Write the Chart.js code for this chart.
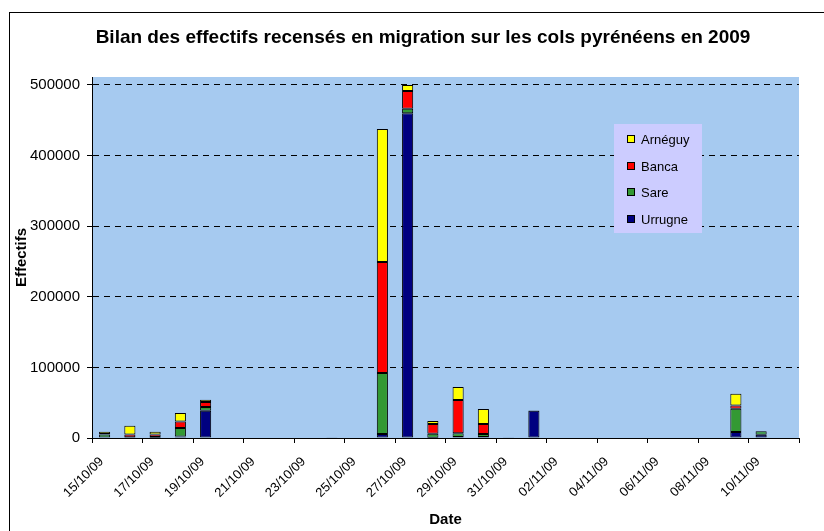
<!DOCTYPE html>
<html>
<head>
<meta charset="utf-8">
<script src="https://cdn.jsdelivr.net/npm/chart.js@4/dist/chart.umd.min.js"></script>
<style>
  html, body { margin: 0; padding: 0; background: #fff; }
  #wrap { width: 824px; height: 531px; }
</style>
</head>
<body>
<div id="wrap"><canvas id="bilanChart" width="824" height="531"></canvas></div>
<script>
// Données
var dates = ['15/10/09', '16/10/09', '17/10/09', '18/10/09', '19/10/09', '20/10/09', '21/10/09',
             '22/10/09', '23/10/09', '24/10/09', '25/10/09', '26/10/09', '27/10/09', '28/10/09',
             '29/10/09', '30/10/09', '31/10/09', '01/11/09', '02/11/09', '03/11/09', '04/11/09',
             '05/11/09', '06/11/09', '07/11/09', '08/11/09', '09/11/09', '10/11/09', '11/11/09'];
var urrugne = [0, 500, 500, 2000, 38700, 0, 0, 0, 0, 1200, 0, 5700, 460000, 500,
               1400, 1400, 1200, 38500, 0, 0, 0, 0, 0, 0, 0, 8500, 4700, 0];
var sare    = [5000, 500, 1000, 12000, 5200, 0, 0, 0, 0, 0, 0, 86400, 6500, 5500,
               5200, 4200, 0, 500, 0, 0, 0, 0, 0, 0, 0, 33000, 4700, 0];
var banca   = [500, 4000, 3500, 9500, 7000, 0, 0, 0, 0, 0, 0, 157200, 25000, 13700,
               47200, 14200, 0, 300, 0, 0, 0, 0, 0, 0, 0, 4700, 0, 0];
var arneguy = [3500, 12500, 4000, 12000, 3300, 0, 0, 0, 0, 0, 0, 188400, 8500, 4500,
               18400, 21200, 0, 0, 0, 0, 0, 0, 0, 0, 0, 16500, 0, 0];
var yTicks = [0, 100000, 200000, 300000, 400000, 500000];
var yMax = 511300;

var FONT = 'Arial, "Liberation Sans", sans-serif';
Chart.defaults.font.family = FONT;
Chart.defaults.color = '#000';

// fond blanc, cadre, fond de la zone de tracé et titre
var decor = {
    id: 'decor',
    beforeDraw: function(chart) {
        var ctx = chart.ctx, a = chart.chartArea;
        ctx.save();
        ctx.fillStyle = '#fff';
        ctx.fillRect(0, 0, chart.width, chart.height);
        ctx.strokeStyle = '#000';
        ctx.lineWidth = 1;
        ctx.strokeRect(9.5, 12.5, 900, 600);
        ctx.fillStyle = '#A6CAF0';
        ctx.fillRect(a.left, a.top, a.right - a.left, a.bottom - a.top);
        ctx.fillStyle = '#000';
        ctx.font = 'bold 19px ' + FONT;
        ctx.textAlign = 'center';
        ctx.textBaseline = 'middle';
        ctx.fillText('Bilan des effectifs recensés en migration sur les cols pyrénéens en 2009', 423, 38);
        ctx.restore();
    }
};

// légende dans la zone de tracé
var legendBox = {
    id: 'legendBox',
    afterDraw: function(chart) {
        var ctx = chart.ctx;
        var items = chart.data.datasets.slice().reverse();
        ctx.save();
        ctx.fillStyle = '#CCCCFF';
        ctx.fillRect(614, 124, 88, 109);
        ctx.font = '13px ' + FONT;
        ctx.textBaseline = 'middle';
        ctx.textAlign = 'left';
        items.forEach(function(ds, i) {
            var y = Math.round(139 + i * 26.7);
            ctx.fillStyle = ds.backgroundColor;
            ctx.fillRect(627, y - 4, 8, 8);
            ctx.strokeStyle = '#000';
            ctx.lineWidth = 1;
            ctx.strokeRect(627.5, y - 3.5, 7, 7);
            ctx.fillStyle = '#000';
            ctx.fillText(ds.label, 641, y + 1);
        });
        ctx.restore();
    }
};

document.addEventListener('DOMContentLoaded', function() {
    var ctx = document.getElementById('bilanChart').getContext('2d');
    var bar = { borderColor: '#000', borderWidth: 1, borderSkipped: false,
                barPercentage: 0.44, categoryPercentage: 1.0 };
    var bilanChart = new Chart(ctx, {
        type: 'bar',
        data: {
            labels: dates,
            datasets: [
                Object.assign({ label: 'Urrugne', data: urrugne, backgroundColor: '#000080' }, bar),
                Object.assign({ label: 'Sare', data: sare, backgroundColor: '#339933' }, bar),
                Object.assign({ label: 'Banca', data: banca, backgroundColor: '#FF0000' }, bar),
                Object.assign({ label: 'Arnéguy', data: arneguy, backgroundColor: '#FFFF00' }, bar)
            ]
        },
        options: {
            responsive: false,
            animation: false,
            layout: { padding: { left: 10, right: 25, top: 77, bottom: 0 } },
            plugins: {
                legend: { display: false },
                title: { display: false },
                tooltip: { enabled: false }
            },
            scales: {
                x: {
                    stacked: true,
                    offset: true,
                    grid: {
                        offset: true,
                        drawOnChartArea: false,
                        tickLength: 5,
                        color: function(c) {
                            return (c.index === undefined || c.index % 2 === 0) ? '#000' : 'rgba(0,0,0,0)';
                        }
                    },
                    border: { color: '#000', width: 1 },
                    ticks: {
                        autoSkip: false,
                        minRotation: 45,
                        maxRotation: 45,
                        padding: 11,
                        labelOffset: -3,
                        font: { size: 13 },
                        callback: function(v, i) { return i % 2 === 0 ? dates[i] : ''; }
                    },
                    title: {
                        display: true,
                        text: 'Date',
                        font: { size: 15, weight: 'bold' },
                        padding: { top: 0, bottom: 2 }
                    },
                    afterFit: function(s) { s.height = 93; }
                },
                y: {
                    stacked: true,
                    min: 0,
                    max: yMax,
                    afterBuildTicks: function(s) {
                        s.ticks = yTicks.map(function(v) { return { value: v }; });
                    },
                    grid: {
                        tickLength: 5,
                        tickColor: '#000',
                        color: function(c) {
                            return (c.tick && c.tick.value === 0) ? 'rgba(0,0,0,0)' : '#000';
                        }
                    },
                    border: { color: '#000', width: 1, dash: [6, 5] },
                    ticks: {
                        padding: 7,
                        font: { size: 15 },
                        callback: function(v) { return String(v); }
                    },
                    title: {
                        display: true,
                        text: 'Effectifs',
                        font: { size: 15, weight: 'bold' },
                        padding: { top: 3, bottom: 0 }
                    },
                    afterFit: function(s) { s.width = 82; }
                }
            }
        },
        plugins: [decor, legendBox]
    });
});
</script>
</body>
</html>
